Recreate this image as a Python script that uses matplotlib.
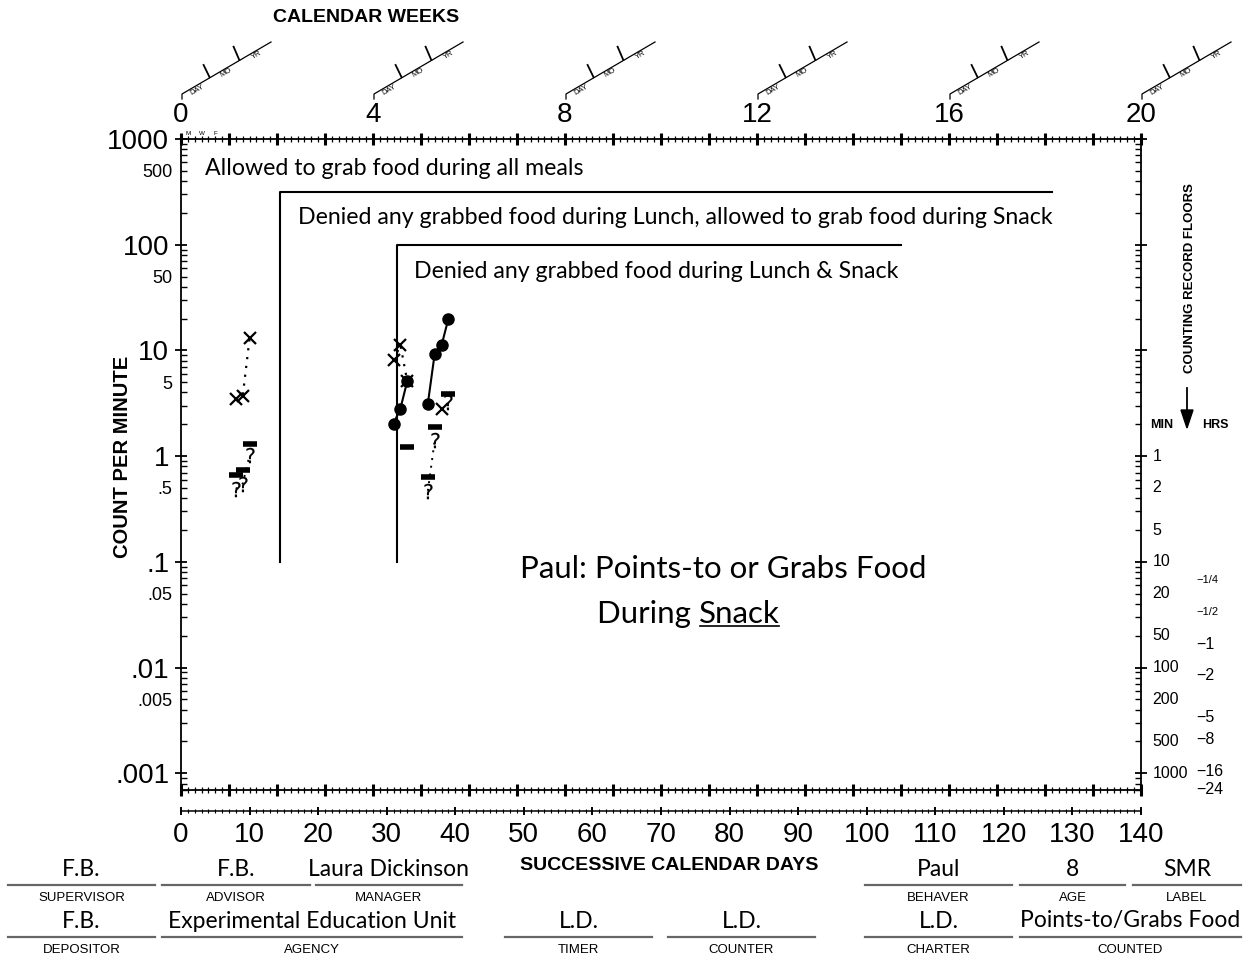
import matplotlib
matplotlib.use('Agg')
import matplotlib.pyplot as plt
from matplotlib.ticker import FixedLocator, FixedFormatter, MultipleLocator, NullFormatter
from matplotlib.lines import Line2D
from matplotlib.patches import Polygon

plt.rcParams['font.family'] = ['Liberation Sans', 'DejaVu Sans']
HAND = ['Lato', 'DejaVu Sans']

W, H = 1251, 957

# ---------------- data ----------------
corr_p2_days = [31, 32, 33]
corr_p2_vals = [2.03, 2.82, 5.14]
corr_p3_days = [36, 37, 38, 39]
corr_p3_vals = [3.14, 9.35, 11.2, 20.0]

x_p1_days = [8, 9, 10]
x_p1_vals = [3.5, 3.7, 13.0]
x_p2_days = [31, 32, 33]
x_p2_vals = [8.1, 11.2, 5.1]
x_p3_days = [38]
x_p3_vals = [2.8]

floor_days = [8, 9, 10, 33, 36, 37, 39]
floor_vals = [0.67, 0.74, 1.29, 1.22, 0.63, 1.89, 3.9]

q_p1_days = [8, 9, 10]
q_p1_vals = [0.49, 0.55, 1.02]
q_p3_days = [36, 37]
q_p3_vals = [0.47, 1.41]
q_p3b_days = [39]
q_p3b_vals = [3.25]

phase1_day, phase1_top, phase1_end = 14.5, 315, 127
phase2_day, phase2_top, phase2_end = 31.5, 100, 105
phase_bottom = 0.1

phase_texts = [
    ("Allowed to grab food during all meals", 3.5, 531),
    ("Denied any grabbed food during Lunch, allowed to grab food during Snack", 17, 179),
    ("Denied any grabbed food during Lunch & Snack", 34, 56),
]

left_major = [1e-3, 1e-2, 1e-1, 1, 10, 100, 1000]
left_major_labels = ['.001', '.01', '.1', '1', '10', '100', '1000']
five_vals = [5e-3, 5e-2, 5e-1, 5, 50, 500]
five_labels = ['.005', '.05', '.5', '5', '50', '500']

floor_min = [1, 2, 5, 10, 20, 50, 100, 200, 500, 1000]
hrs_min = [15, 30, 60, 120, 300, 480, 960, 1440]
hrs_labels = ['\u22121/4', '\u22121/2', '\u22121', '\u22122', '\u22125', '\u22128', '\u221216', '\u221224']

week_ticks = [0, 4, 8, 12, 16, 20]
day_labels = list(range(0, 141, 10))

form_row1 = [  # (value, label, x0, x1)
    ("F.B.", "SUPERVISOR", 8, 155),
    ("F.B.", "ADVISOR", 162, 310),
    ("Laura Dickinson", "MANAGER", 316, 462),
    ("Paul", "BEHAVER", 865, 1012),
    ("8", "AGE", 1020, 1125),
    ("SMR", "LABEL", 1133, 1241),
]
form_row2 = [
    ("F.B.", "DEPOSITOR", 8, 155),
    ("Experimental Education Unit", "AGENCY", 162, 462),
    ("L.D.", "TIMER", 505, 652),
    ("L.D.", "COUNTER", 668, 815),
    ("L.D.", "CHARTER", 865, 1012),
    ("Points-to/Grabs Food", "COUNTED", 1020, 1241),
]

# ---------------- figure ----------------
fig = plt.figure(figsize=(W / 100, H / 100), dpi=100)
fig.patch.set_facecolor('white')

def fx(x):
    return x / W

def fy(y):
    return 1 - y / H

ax = fig.add_axes([fx(181), fy(790), (1141 - 181) / W, (790 - 139) / H])
ax.set_xlim(0, 140)
ax.set_yscale('log')
ax.set_ylim(1 / 1440, 1000)
for s in ax.spines.values():
    s.set_linewidth(1.3)

# y ticks
ax.yaxis.set_major_locator(FixedLocator(left_major))
ax.yaxis.set_major_formatter(FixedFormatter(left_major_labels))
minor_locs = []
for dec in [1e-4, 1e-3, 1e-2, 1e-1, 1, 10, 100]:
    for m in range(2, 10):
        v = dec * m
        if 1 / 1440 <= v <= 1000:
            minor_locs.append(v)
minor_labels = []
for v in minor_locs:
    lab = ''
    for fv, fl in zip(five_vals, five_labels):
        if abs(v - fv) / fv < 1e-6:
            lab = fl
    minor_labels.append(lab)
ax.yaxis.set_minor_locator(FixedLocator(minor_locs))
ax.yaxis.set_minor_formatter(FixedFormatter(minor_labels))
ax.tick_params(axis='y', which='major', direction='inout', length=9, width=1.3,
               labelsize=20, pad=4, right=True)
ax.tick_params(axis='y', which='minor', direction='in', length=4, width=1,
               labelsize=13, pad=6, right=True)

# x ticks (frame)
ax.xaxis.set_major_locator(MultipleLocator(7))
ax.xaxis.set_minor_locator(MultipleLocator(1))
ax.xaxis.set_major_formatter(NullFormatter())
ax.xaxis.set_minor_formatter(NullFormatter())
ax.tick_params(axis='x', which='major', direction='inout', length=8, width=2.2, top=True)
ax.tick_params(axis='x', which='minor', direction='inout', length=5, width=0.9, top=True)

# top weeks axis
sec = ax.secondary_xaxis('top', functions=(lambda d: d / 7, lambda w: w * 7))
sec.set_xticks(week_ticks)
sec.set_xticklabels([str(w) for w in week_ticks])
sec.tick_params(length=0, labelsize=20, pad=8)
sec.spines['top'].set_visible(False)

# bottom second day row
axb = fig.add_axes([fx(181), fy(811), (1141 - 181) / W, 1e-6])
axb.set_xlim(0, 140)
axb.patch.set_visible(False)
for k in ['top', 'left', 'right']:
    axb.spines[k].set_visible(False)
axb.spines['bottom'].set_linewidth(1.1)
axb.set_yticks([])
axb.xaxis.set_major_locator(FixedLocator(day_labels))
axb.xaxis.set_major_formatter(FixedFormatter([str(d) for d in day_labels]))
axb.xaxis.set_minor_locator(MultipleLocator(1))
axb.tick_params(axis='x', which='major', direction='inout', length=6, width=1.4,
                labelsize=20, pad=5)
axb.tick_params(axis='x', which='minor', direction='inout', length=3.5, width=0.8)

# ---------------- data marks ----------------
ax.plot(corr_p2_days, corr_p2_vals, '-o', color='black', lw=1.5, ms=8, zorder=5)
ax.plot(corr_p3_days, corr_p3_vals, '-o', color='black', lw=1.5, ms=8, zorder=5)
for d, v in [(x_p1_days, x_p1_vals), (x_p2_days, x_p2_vals), (x_p3_days, x_p3_vals)]:
    ax.plot(d, v, ls=(0, (1, 3)), marker='x', color='black', lw=1.6, ms=8, mew=1.6, zorder=6)
ax.plot(floor_days, floor_vals, ls='none', marker='_', color='black', ms=10, mew=4, zorder=6)
for d, v in [(q_p1_days, q_p1_vals), (q_p3_days, q_p3_vals), (q_p3b_days, q_p3b_vals)]:
    ax.plot(d, v, ls=(0, (1, 3)), marker='$?$', color='black', lw=1.4, ms=11, mew=0.1, zorder=6)

# phase change lines
ax.plot([phase1_day, phase1_day, phase1_end], [phase_bottom, phase1_top, phase1_top],
        color='black', lw=1.5)
ax.plot([phase2_day, phase2_day, phase2_end], [phase_bottom, phase2_top, phase2_top],
        color='black', lw=1.5)
for txt, d, v in phase_texts:
    ax.text(d, v, txt, family=HAND, fontsize=16.7, va='center', ha='left')

# title
ax.text(49.4, 0.085, "Paul: Points-to or Grabs Food", family=HAND, fontsize=22.5,
        va='center', ha='left')
t_dur = ax.text(60.7, 0.032, "During ", family=HAND, fontsize=22.5,
                va='center', ha='left')
t_snack = ax.annotate("Snack", xy=(1, 0), xycoords=t_dur, ha='left', va='bottom',
                      family=HAND, fontsize=22.5)

# ---------------- right side ----------------
ytr = ax.get_yaxis_transform()
for m in floor_min:
    ax.text(1.012, 1.0 / m, str(m), transform=ytr, fontsize=11.5, va='center', ha='left')
for m, lab in zip(hrs_min, hrs_labels):
    small = '/' in lab
    ax.text(1.058, 1.0 / m, lab, transform=ytr, fontsize=8 if small else 11.5,
            va='center', ha='left')

fig.text(fx(1190), fy(278), "COUNTING RECORD FLOORS", rotation=90, ha='center',
         va='center', fontsize=9.5, weight='bold')
fig.add_artist(Line2D([fx(1187), fx(1187)], [fy(388), fy(412)], color='black', lw=1.3))
fig.add_artist(Polygon([[fx(1181), fy(410)], [fx(1193), fy(410)], [fx(1187), fy(428)]],
                       closed=True, color='black', transform=fig.transFigure))
fig.text(fx(1162), fy(425), "MIN", ha='center', va='center', fontsize=9, weight='bold')
fig.text(fx(1215), fy(425), "HRS", ha='center', va='center', fontsize=9, weight='bold')

# ---------------- axis titles ----------------
fig.text(fx(122), fy(457), "COUNT PER MINUTE", rotation=90, ha='center', va='center',
         fontsize=14.5, weight='bold')
fig.text(fx(366), fy(18), "CALENDAR WEEKS", ha='center', va='center',
         fontsize=14, weight='bold')
fig.text(fx(669), fy(866), "SUCCESSIVE CALENDAR DAYS", ha='center', va='center',
         fontsize=14, weight='bold')

# M W F
for d, lab in [(1, 'M'), (3, 'W'), (5, 'F')]:
    ax.text(d, 1.004, lab, transform=ax.get_xaxis_transform(), fontsize=4.5,
            ha='center', va='bottom')

# DAY / MO / YR diagonal scales above week numbers
fig.canvas.draw()
for w in week_ticks:
    x0 = ax.transData.transform((w * 7, 1))[0]
    def P(dx, y):
        return (fx(x0 + dx), fy(y))
    pts = [P(1, 99), P(1, 94), P(90, 42)]
    fig.add_artist(Line2D([p[0] for p in pts], [p[1] for p in pts], color='black', lw=0.9))
    for (dxt, yt, dxb, yb) in [(22.6, 65, 28.6, 77.3), (52.6, 46.7, 58.3, 60)]:
        a, b = P(dxt, yt), P(dxb, yb)
        fig.add_artist(Line2D([a[0], b[0]], [a[1], b[1]], color='black', lw=1.3))
    for lab, dx, yy in [("DAY", 16, 90), ("MO", 45, 73), ("YR", 76, 55)]:
        p = P(dx, yy)
        fig.text(p[0], p[1], lab, rotation=30, fontsize=5.5, ha='center', va='center')

# underline Snack
bb = t_snack.get_window_extent(fig.canvas.get_renderer())
inv = fig.transFigure.inverted()
(ux0, uy0), (ux1, _) = inv.transform([(bb.x0 + 1, bb.y0 + 2), (bb.x1 - 1, bb.y0 + 2)])
fig.add_artist(Line2D([ux0, ux1], [uy0, uy0], color='black', lw=1.2))

# ---------------- form fields ----------------
def field_row(items, yline, yval, ylab):
    for val, lab, x0, x1 in items:
        fig.add_artist(Line2D([fx(x0), fx(x1)], [fy(yline), fy(yline)], color='#666666', lw=1.6))
        cx = (x0 + x1) / 2
        fig.text(fx(cx), fy(yval), val, family=HAND, fontsize=16.5,
                 ha='center', va='center')
        fig.text(fx(cx), fy(ylab), lab, fontsize=9.5, ha='center', va='center')

field_row(form_row1, 885, 869, 898)
field_row(form_row2, 937, 921, 950)

fig.savefig('out.png', dpi=100, facecolor='white')
